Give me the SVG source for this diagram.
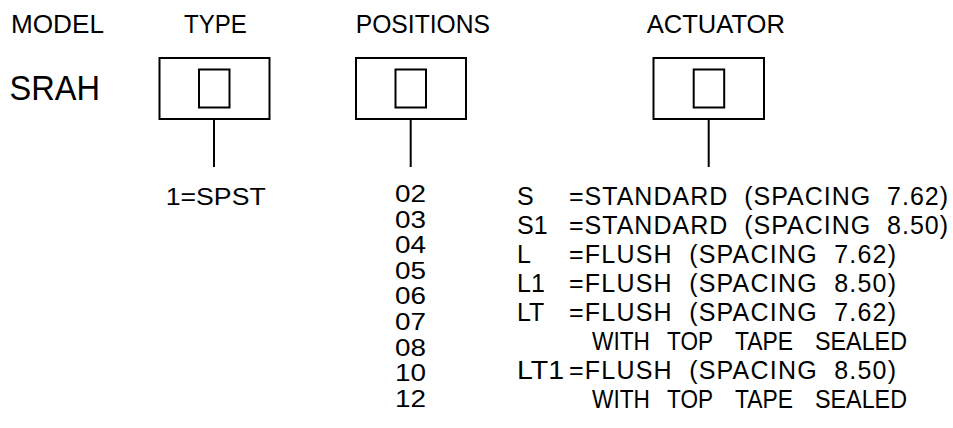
<svg xmlns="http://www.w3.org/2000/svg" width="953" height="428" viewBox="0 0 953 428">
<style>
.bg{fill:#fff}
.box{fill:none;stroke:#000;stroke-width:2}
.ln{stroke:#000;stroke-width:2}
text{font-family:"Liberation Sans",Arial,sans-serif;fill:#000;white-space:pre}
.h{font-size:26px}
.big{font-size:35px}
.t{font-size:23px}
.a{font-size:25px}
</style>
<rect class="bg" x="0" y="0" width="953" height="428"/>
<g id="model">
<text class="h" x="11" y="33" textLength="93" lengthAdjust="spacingAndGlyphs">MODEL</text>
<text class="big" x="9.5" y="100" textLength="90.5" lengthAdjust="spacingAndGlyphs">SRAH</text>
</g>
<g id="type">
<text class="h" x="184" y="33" textLength="62.7" lengthAdjust="spacingAndGlyphs">TYPE</text>
<rect class="box" x="159.5" y="58" width="110" height="61"/>
<rect class="box" x="199" y="69.5" width="30.5" height="38"/>
<text class="t" x="165.7" y="205" textLength="100" lengthAdjust="spacingAndGlyphs">1=SPST</text>
</g>
<g id="positions">
<text class="h" x="355.7" y="33" textLength="134.3" lengthAdjust="spacingAndGlyphs">POSITIONS</text>
<rect class="box" x="356" y="58" width="110" height="61"/>
<rect class="box" x="395.5" y="69.5" width="30.5" height="38"/>
<text class="t" x="395" y="202" textLength="31" lengthAdjust="spacingAndGlyphs">02</text>
<text class="t" x="395" y="227.6" textLength="31" lengthAdjust="spacingAndGlyphs">03</text>
<text class="t" x="395" y="253.2" textLength="31" lengthAdjust="spacingAndGlyphs">04</text>
<text class="t" x="395" y="278.8" textLength="31" lengthAdjust="spacingAndGlyphs">05</text>
<text class="t" x="395" y="304.4" textLength="31" lengthAdjust="spacingAndGlyphs">06</text>
<text class="t" x="395" y="330" textLength="31" lengthAdjust="spacingAndGlyphs">07</text>
<text class="t" x="395" y="355.6" textLength="31" lengthAdjust="spacingAndGlyphs">08</text>
<text class="t" x="395" y="381.2" textLength="31" lengthAdjust="spacingAndGlyphs">10</text>
<text class="t" x="395" y="406.8" textLength="31" lengthAdjust="spacingAndGlyphs">12</text>
</g>
<g id="actuator">
<text class="h" x="646.7" y="33" textLength="138.3" lengthAdjust="spacingAndGlyphs">ACTUATOR</text>
<rect class="box" x="653.5" y="58" width="110.5" height="61"/>
<rect class="box" x="693.7" y="69.5" width="30.5" height="38"/>
<g id="opt-s">
<text class="a" x="517" y="204.5">S</text>
<text class="a" x="569" y="204.5" textLength="379" lengthAdjust="spacing" xml:space="preserve">=STANDARD  (SPACING  7.62)</text>
</g>
<g id="opt-s1">
<text class="a" x="517" y="233.5">S1</text>
<text class="a" x="569" y="233.5" textLength="379" lengthAdjust="spacing" xml:space="preserve">=STANDARD  (SPACING  8.50)</text>
</g>
<g id="opt-l">
<text class="a" x="517" y="262.5">L</text>
<text class="a" x="569" y="262.5" textLength="327" lengthAdjust="spacing" xml:space="preserve">=FLUSH  (SPACING  7.62)</text>
</g>
<g id="opt-l1">
<text class="a" x="517" y="291.5">L1</text>
<text class="a" x="569" y="291.5" textLength="327" lengthAdjust="spacing" xml:space="preserve">=FLUSH  (SPACING  8.50)</text>
</g>
<g id="opt-lt">
<text class="a" x="517" y="320.5">LT</text>
<text class="a" x="569" y="320.5" textLength="327" lengthAdjust="spacing" xml:space="preserve">=FLUSH  (SPACING  7.62)</text>
<text class="a" x="592" y="349.5" textLength="58" lengthAdjust="spacingAndGlyphs">WITH</text>
<text class="a" x="667" y="349.5" textLength="46" lengthAdjust="spacingAndGlyphs">TOP</text>
<text class="a" x="735" y="349.5" textLength="58" lengthAdjust="spacingAndGlyphs">TAPE</text>
<text class="a" x="815" y="349.5" textLength="92" lengthAdjust="spacingAndGlyphs">SEALED</text>
</g>
<g id="opt-lt1">
<text class="a" x="517" y="378.5" textLength="47" lengthAdjust="spacingAndGlyphs">LT1</text>
<text class="a" x="569" y="378.5" textLength="327" lengthAdjust="spacing" xml:space="preserve">=FLUSH  (SPACING  8.50)</text>
<text class="a" x="592" y="407.5" textLength="58" lengthAdjust="spacingAndGlyphs">WITH</text>
<text class="a" x="667" y="407.5" textLength="46" lengthAdjust="spacingAndGlyphs">TOP</text>
<text class="a" x="735" y="407.5" textLength="58" lengthAdjust="spacingAndGlyphs">TAPE</text>
<text class="a" x="815" y="407.5" textLength="92" lengthAdjust="spacingAndGlyphs">SEALED</text>
</g>
</g>
<g id="connectors">
<line class="ln" x1="214" y1="119" x2="214" y2="167"/>
<line class="ln" x1="410.7" y1="119" x2="410.7" y2="167"/>
<line class="ln" x1="708.7" y1="119" x2="708.7" y2="167"/>
</g>
</svg>
